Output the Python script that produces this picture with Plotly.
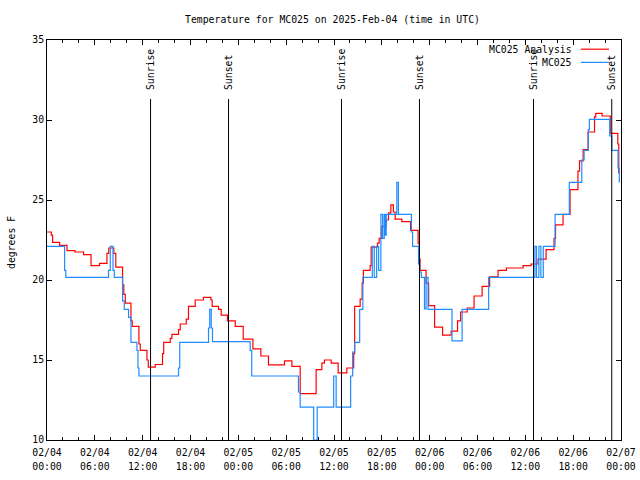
import pandas as pd
import plotly.graph_objects as go

# ---- data (hours since 2025-02-04 00:00 UTC, temperature in F) ----
start = pd.Timestamp("2025-02-04 00:00")

analysis_hours = [0.00, 0.54, 0.70, 1.58, 2.51, 3.51, 4.59, 5.52, 6.59, 7.52, 7.75, 8.38, 8.63, 9.48, 9.63, 9.82,
                  10.53, 10.69, 11.53, 11.70, 12.54, 12.70, 13.58, 14.49, 14.64, 15.46, 15.67, 16.50, 16.71, 17.47,
                  17.75, 18.59, 19.63, 20.56, 20.72, 21.51, 21.85, 22.64, 23.61, 24.61, 25.83, 26.83, 27.78, 29.79,
                  30.72, 31.76, 33.76, 34.48, 34.80, 35.64, 36.52, 37.61, 38.47, 38.59, 39.28, 39.53, 39.69, 40.53,
                  40.66, 41.45, 41.66, 42.00, 42.54, 42.83, 43.13, 43.45, 43.67, 44.51, 45.61, 46.55, 46.68, 46.80,
                  47.55, 47.87, 48.62, 49.62, 50.69, 51.50, 51.88, 52.70, 53.57, 54.58, 55.52, 56.58, 57.62, 59.72,
                  60.72, 61.60, 62.60, 63.60, 63.79, 64.73, 65.61, 66.60, 66.80, 67.25, 67.87, 68.68, 68.83, 69.63,
                  70.65, 71.60, 71.72, 71.80]
analysis_temps = [23.0, 22.8, 22.35, 22.17, 21.83, 21.75, 21.58, 20.9, 21.04, 21.67, 22.0, 21.67, 20.8, 19.7, 19.1,
                  18.55, 17.45, 17.1, 16.0, 15.6, 15.0, 14.55, 14.72, 15.4, 16.1, 16.35, 16.6, 16.9, 17.25, 17.55,
                  18.35, 18.75, 18.92, 18.75, 18.35, 18.17, 17.8, 17.45, 17.1, 16.3, 15.7, 15.25, 14.7, 14.95, 14.6,
                  12.9, 14.4, 14.8, 15.0, 14.8, 14.2, 14.5, 15.4, 18.35, 18.8, 19.8, 20.6, 20.9, 22.05, 22.3, 22.6,
                  23.35, 23.75, 24.2, 24.7, 24.25, 23.8, 23.65, 23.1, 22.3, 21.3, 20.6, 19.8, 18.4, 17.05, 16.55,
                  16.8, 17.45, 18.0, 18.25, 19.0, 19.6, 20.2, 20.6, 20.75, 20.9, 21.0, 21.3, 21.9, 22.6, 23.45, 24.1,
                  25.65, 26.8, 27.45, 28.15, 29.25, 30.2, 30.42, 30.25, 29.17, 28.5, 26.7, 26.7]

obs_hours = [0.00, 2.21, 2.36, 7.72, 7.94, 8.28, 8.44, 9.48,
             9.69, 10.23, 10.53, 11.28, 11.41, 11.53, 16.50, 16.65,
             20.26, 20.41, 20.60, 20.76, 25.49, 25.68, 31.54, 31.76,
             33.45, 33.89, 35.96, 36.27, 38.09, 38.34, 38.59, 39.22,
             39.62, 40.80, 41.05, 41.35, 41.60, 41.88, 42.10, 42.30,
             42.40, 42.55, 43.88, 44.08, 45.71, 45.86, 46.60, 46.75,
             46.95, 47.35, 47.55, 47.80, 50.80, 52.07, 55.40, 61.20,
             61.40, 61.70, 61.95, 62.25, 63.73, 65.52, 67.08, 67.37,
             67.90, 68.03, 70.59, 70.84, 71.63, 71.79]
obs_temps = [22.1, 20.6, 20.17, 20.6, 22.1, 20.6, 20.17, 18.7,
             18.17, 17.67, 16.1, 15.6, 14.5, 14.0, 14.5, 16.1,
             17.0, 18.17, 17.0, 16.15, 15.6, 14.0, 13.0, 12.05,
             10.0, 12.05, 14.0, 12.05, 14.0, 15.5, 16.1, 18.17,
             20.17, 22.1, 20.17, 22.1, 20.6, 24.1, 22.6, 24.1,
             22.8, 24.1, 26.1, 24.1, 23.0, 22.1, 21.0, 20.5,
             20.17, 18.2, 20.17, 18.17, 16.2, 18.17, 20.17, 22.1,
             20.17, 22.1, 20.17, 22.1, 24.1, 26.1, 27.5, 28.1,
             29.4, 30.04, 29.0, 28.1, 27.0, 26.1]

sun_event_hours = [12.99, 22.77, 36.94, 46.72, 61.03, 70.84]
sun_event_labels = ["Sunrise", "Sunset", "Sunrise", "Sunset", "Sunrise", "Sunset"]

tick_hours = list(range(0, 73, 6))
tick_dates = ["02/04", "02/04", "02/04", "02/04", "02/05", "02/05", "02/05", "02/05",
              "02/06", "02/06", "02/06", "02/06", "02/07"]
tick_clock = ["00:00", "06:00", "12:00", "18:00", "00:00", "06:00", "12:00", "18:00",
              "00:00", "06:00", "12:00", "18:00", "00:00"]
y_ticks = [10, 15, 20, 25, 30, 35]

series_names = ["MC025 Analysis", "MC025"]
series_colors = ["#ff0000", "#1e8cff"]


def to_time(hours):
    return start + pd.to_timedelta(pd.Series(hours, dtype=float), unit="h")


FONT = "DejaVu Sans Mono"
FS = 9.8
x_range = [start, start + pd.Timedelta(hours=72)]

fig = go.Figure()
fig.add_trace(go.Scatter(x=to_time(analysis_hours), y=analysis_temps, mode="lines", line_shape="hv",
                         line=dict(color=series_colors[0], width=1.2), name=series_names[0]))
fig.add_trace(go.Scatter(x=to_time(obs_hours), y=obs_temps, mode="lines", line_shape="hv",
                         line=dict(color=series_colors[1], width=1.2), name=series_names[1]))
# empty trace so the second (clock-time label) x axis is drawn
fig.add_trace(go.Scatter(x=[], y=[], xaxis="x2", yaxis="y", mode="lines", showlegend=False, hoverinfo="skip"))

ev_times = to_time(sun_event_hours)
LINE_TOP = 0.8525
for t, lab in zip(ev_times, sun_event_labels):
    fig.add_shape(type="line", xref="x", yref="paper", x0=t, x1=t, y0=0, y1=LINE_TOP,
                  line=dict(color="black", width=1))
    fig.add_annotation(x=t, xref="x", y=0.87, yref="paper", text=lab, textangle=-90, showarrow=False,
                       xanchor="center", yanchor="bottom", font=dict(family=FONT, size=FS, color="black"))

# legend (gnuplot style: text left, sample right)
leg_y = [0.977, 0.944]
for name, col, ly in zip(series_names, series_colors, leg_y):
    fig.add_annotation(x=0.918, xref="paper", y=ly, yref="paper", text=name, showarrow=False,
                       xanchor="right", yanchor="middle", font=dict(family=FONT, size=FS, color="black"))
    fig.add_shape(type="line", xref="paper", yref="paper", x0=0.930, x1=0.979, y0=ly, y1=ly,
                  line=dict(color=col, width=1.2))

# y axis title
fig.add_annotation(x=-0.0627, xref="paper", y=0.4925, yref="paper", text="degrees F", textangle=-90,
                   showarrow=False, xanchor="center", yanchor="middle",
                   font=dict(family=FONT, size=FS, color="black"))

fig.update_layout(
    width=640, height=480,
    margin=dict(l=47, r=19, t=40, b=40, pad=0),
    paper_bgcolor="white", plot_bgcolor="white",
    showlegend=False,
    title=dict(text="Temperature for MC025 on 2025-Feb-04 (time in UTC)", x=332.5 / 640, xanchor="center",
               y=1 - 20 / 480, yanchor="middle", font=dict(family=FONT, size=FS, color="black")),
    font=dict(family=FONT, size=FS, color="black"),
    xaxis=dict(
        type="date", range=x_range, automargin=False,
        tickvals=list(to_time(tick_hours)), ticktext=tick_dates, ticklabelstandoff=3,
        ticks="inside", ticklen=5, tickcolor="black", tickwidth=1,
        showline=True, linecolor="black", linewidth=1, mirror="ticks",
        showgrid=False, zeroline=False,
        minor=dict(ticks="inside", ticklen=3, tickcolor="black", dtick=2 * 3600 * 1000, tick0=start,
                   showgrid=False),
        tickfont=dict(family=FONT, size=FS, color="black"),
    ),
    xaxis2=dict(
        type="date", range=x_range, automargin=False, overlaying="x", anchor="y", side="bottom",
        tickvals=list(to_time(tick_hours)), ticktext=tick_clock, ticklabelstandoff=19,
        ticks="", showline=False, showgrid=False, zeroline=False,
        tickfont=dict(family=FONT, size=FS, color="black"),
    ),
    yaxis=dict(
        range=[10, 35], tickvals=y_ticks, automargin=False,
        ticks="inside", ticklen=5, tickcolor="black", tickwidth=1,
        showline=True, linecolor="black", linewidth=1, mirror="ticks",
        showgrid=False, zeroline=False,
        tickfont=dict(family=FONT, size=FS, color="black"),
    ),
)

fig.write_html("out.html")
